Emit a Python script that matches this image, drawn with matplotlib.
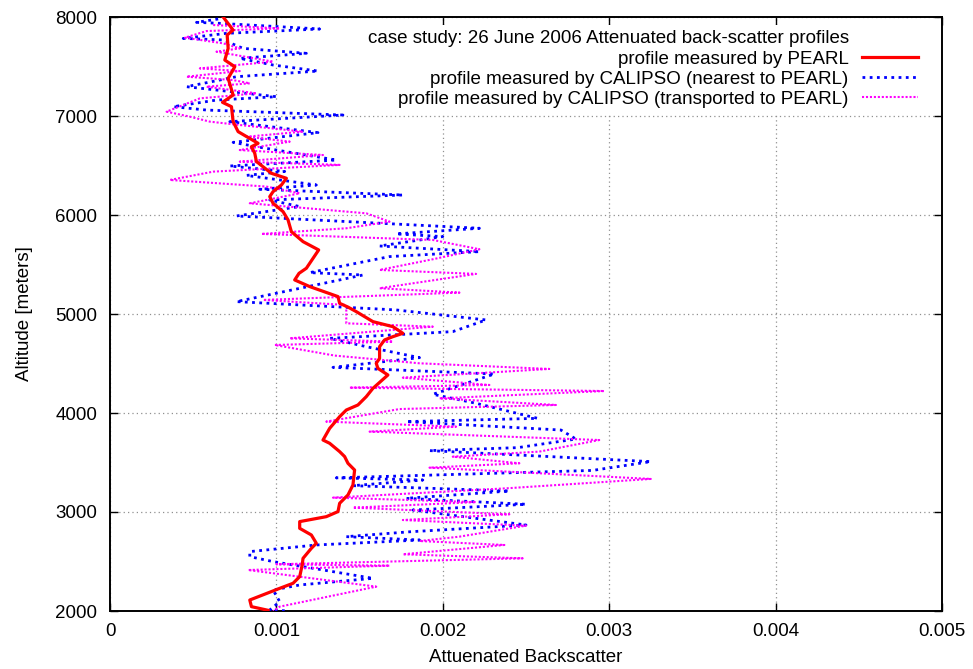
import numpy as np
import matplotlib
matplotlib.use("Agg")
import matplotlib.pyplot as plt
from matplotlib.lines import Line2D
from matplotlib.ticker import FormatStrFormatter, MultipleLocator

plt.rcParams["font.family"] = ["Liberation Sans", "DejaVu Sans"]

# ---- PEARL lidar profile (altitude in m, attenuated backscatter in 1e-3 units)
pearl_alt = [8000, 7868, 7818, 7683, 7565, 7498, 7380, 7212, 7138, 7094, 6943, 6842,
             6724, 6690, 6623, 6540, 6421, 6371, 6303, 6236, 6186, 6118, 6034, 5950,
             5832, 5731, 5647, 5462, 5411, 5344, 5277, 5176, 5108, 5070, 5024, 4923,
             4872, 4805, 4771, 4738, 4670, 4552, 4502, 4451, 4384, 4249, 4165, 4081,
             4030, 3963, 3845, 3727, 3694, 3610, 3560, 3492, 3424, 3273, 3172, 3088,
             3004, 2953, 2903, 2835, 2768, 2684, 2633, 2532, 2465, 2347, 2280, 2229,
             2111, 2044, 2007]
pearl_val = [0.68, 0.74, 0.704, 0.71, 0.69, 0.75, 0.71, 0.74, 0.676, 0.73, 0.74, 0.77,
             0.89, 0.85, 0.87, 0.88, 0.97, 1.06, 1.03, 0.98, 0.96, 0.98, 1.04, 1.07,
             1.09, 1.16, 1.254, 1.18, 1.136, 1.11, 1.20, 1.37, 1.38, 1.43, 1.48, 1.58,
             1.70, 1.76, 1.70, 1.65, 1.62, 1.62, 1.60, 1.61, 1.67, 1.58, 1.54, 1.49,
             1.42, 1.38, 1.32, 1.28, 1.32, 1.38, 1.41, 1.43, 1.47, 1.46, 1.43, 1.38,
             1.37, 1.30, 1.14, 1.14, 1.21, 1.24, 1.21, 1.16, 1.155, 1.14, 1.10, 1.02,
             0.84, 0.85, 0.95]

# ---- CALIPSO profile, nearest footprint to PEARL
near_alt = [7980, 7946, 7936, 7879, 7835, 7784, 7768, 7683, 7633, 7582, 7515, 7454,
            7397, 7296, 7195, 7161, 7094, 7060, 7010, 6943, 6832, 6734, 6690, 6555,
            6495, 6440, 6400, 6303, 6260, 6202, 6152, 6085, 5990, 5866, 5809, 5782,
            5687, 5630, 5580, 5418, 5394, 5344, 5125, 5041, 4940, 4822, 4754, 4670,
            4559, 4461, 4394, 4189, 4098, 3946, 3913, 3828, 3737, 3650, 3620, 3509,
            3420, 3345, 3323, 3266, 3212, 3138, 3078, 3020, 2869, 2800, 2751, 2717,
            2667, 2600, 2549, 2499, 2330, 2263, 2212, 2094, 2010, 2000]
near_val = [0.65, 0.52, 0.66, 1.26, 0.70, 0.44, 0.68, 0.80, 1.18, 0.78, 0.98, 1.25,
            0.76, 0.46, 1.00, 0.64, 0.38, 0.58, 1.40, 0.72, 1.25, 0.74, 0.88, 1.36,
            0.72, 1.05, 0.82, 1.24, 0.90, 1.76, 0.96, 1.14, 0.76, 2.22, 1.72, 2.00,
            1.62, 2.22, 1.68, 1.20, 1.52, 1.38, 0.76, 1.72, 2.26, 2.06, 1.32, 1.54,
            1.86, 1.34, 2.31, 1.94, 2.20, 2.57, 1.78, 2.71, 2.80, 2.45, 1.92, 3.25,
            2.90, 1.36, 1.88, 1.46, 2.40, 1.78, 2.50, 1.82, 2.50, 1.80, 1.42, 1.86,
            1.24, 0.84, 0.84, 0.98, 1.58, 1.14, 0.98, 1.02, 0.96, 1.07]

# ---- CALIPSO profile, transported to PEARL
trans_alt = [7919, 7885, 7858, 7791, 7734, 7683, 7650, 7549, 7481, 7454, 7397, 7363,
             7330, 7296, 7229, 7178, 7044, 6993, 6943, 6909, 6842, 6791, 6741, 6656,
             6606, 6539, 6506, 6438, 6354, 6287, 6219, 6118, 6017, 5933, 5866, 5809,
             5748, 5654, 5553, 5445, 5405, 5260, 5216, 5142, 5091, 4906, 4872, 4754,
             4721, 4687, 4580, 4502, 4445, 4357, 4283, 4256, 4222, 4148, 4081, 4040,
             3913, 3862, 3812, 3727, 3610, 3559, 3492, 3448, 3334, 3239, 3145, 3100,
             3044, 2977, 2919, 2862, 2751, 2707, 2667, 2573, 2532, 2472, 2458, 2414,
             2246, 2044, 2000]
trans_val = [0.62, 1.02, 0.58, 0.45, 0.68, 0.78, 0.64, 0.98, 0.54, 0.78, 0.46, 0.74,
             0.84, 0.58, 0.88, 0.54, 0.34, 0.48, 0.60, 0.78, 1.16, 0.82, 1.08, 0.78,
             1.28, 0.78, 1.38, 0.62, 0.36, 0.94, 1.14, 0.84, 1.54, 1.68, 1.42, 0.91,
             1.94, 2.22, 1.94, 1.62, 2.20, 1.62, 2.10, 0.92, 1.42, 1.42, 1.94, 1.08,
             1.70, 0.99, 1.35, 1.86, 2.64, 1.76, 2.28, 1.44, 2.97, 1.98, 2.68, 1.74,
             1.30, 2.08, 1.56, 2.94, 2.58, 2.06, 2.46, 1.92, 3.25, 2.38, 1.34, 2.20,
             1.46, 2.40, 1.76, 2.50, 2.10, 1.86, 2.37, 1.76, 2.48, 1.00, 1.68, 0.83,
             1.60, 1.02, 0.98]

key_title = "case study: 26 June 2006 Attenuated back-scatter profiles"
label_pearl = "profile measured by PEARL"
label_near = "profile measured by CALIPSO (nearest to PEARL)"
label_trans = "profile measured by CALIPSO (transported to PEARL)"

SCALE = 1e-3  # stored values are in units of 1e-3
FS = 13.5

fig = plt.figure(figsize=(9.73, 6.69), dpi=100)
fig.subplots_adjust(left=110 / 973, right=942 / 973, bottom=58 / 669, top=652 / 669)
ax = fig.add_subplot(111)

ax.plot(np.array(near_val) * SCALE, near_alt, color="#0000ff", lw=2.0,
        linestyle=(0, (1, 1.6)), dash_capstyle="butt", zorder=3)
ax.plot(np.array(trans_val) * SCALE, trans_alt, color="#ff00ff", lw=1.5,
        linestyle=(0, (1, 0.9)), dash_capstyle="butt", zorder=4)
ax.plot(np.array(pearl_val) * SCALE, pearl_alt, color="#ff0000", lw=2.3, zorder=5)

ax.set_xlim(0, 0.005)
ax.set_ylim(2000, 8000)
ax.xaxis.set_major_locator(MultipleLocator(0.001))
ax.yaxis.set_major_locator(MultipleLocator(1000))
ax.xaxis.set_major_formatter(FormatStrFormatter("%g"))

ax.set_axisbelow(True)
ax.grid(True, color="#909090", lw=0.9, linestyle=(0, (1, 2.5)))
ax.tick_params(direction="in", length=6, width=1, top=True, right=True,
               labelsize=FS, pad=9, colors="black")
for s in ax.spines.values():
    s.set_linewidth(1.4)

ax.set_xlabel("Attuenated Backscatter", fontsize=FS, labelpad=6)
ax.set_ylabel("Altitude [meters]", fontsize=FS, labelpad=16)

handles = [Line2D([], [], color="none"),
           Line2D([], [], color="#ff0000", lw=2.3),
           Line2D([], [], color="#0000ff", lw=2.0, linestyle=(0, (1, 1.6))),
           Line2D([], [], color="#ff00ff", lw=1.5, linestyle=(0, (1, 0.9)))]
labels = [key_title, label_pearl, label_near, label_trans]
leg = ax.legend(handles, labels, loc="upper right", bbox_to_anchor=(0.978, 0.987),
                borderaxespad=0, borderpad=0.3, markerfirst=False, handlelength=3.0,
                handletextpad=0.7, labelspacing=0.16, fontsize=FS, frameon=True,
                fancybox=False, framealpha=1.0)
leg.get_frame().set_facecolor("white")
leg.get_frame().set_edgecolor("none")
leg.set_zorder(10)

fig.savefig("out.png", dpi=100)
